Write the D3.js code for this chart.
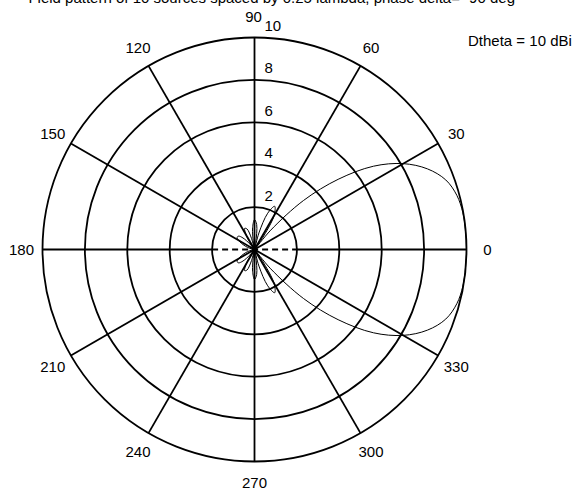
<!DOCTYPE html>
<html>
<head>
<meta charset="utf-8">
<script src="https://cdn.jsdelivr.net/npm/d3@7"></script>
<style>
  body { margin: 0; background: #fff; }
  text { font-family: "Liberation Sans", Arial, sans-serif; font-size: 15px; fill: #000; }
</style>
</head>
<body>
<div id="chart"></div>
<script>
/* Polar field pattern of a 10 element end-fire array */

// angles of the pattern samples (deg) and field values
const patternAngles = [0, 5, 10, 15, 20, 25, 30, 35, 40, 45, 50, 53.13, 55, 60, 65, 70, 75, 78.46, 80, 85,
    90, 95, 100, 101.54, 105, 110, 115, 120, 125, 126.87, 130, 135, 140, 145, 150, 155, 160, 165, 170, 175,
    180, 185, 190, 195, 200, 205, 210, 215, 220, 225, 230, 233.13, 235, 240, 245, 250, 255, 258.46, 260, 265,
    270, 275, 280, 281.54, 285, 290, 295, 300, 305, 306.87, 310, 315, 320, 325, 330, 335, 340, 345, 350, 355];
const patternValues = [10, 9.99, 9.98, 9.88, 9.6, 9.0, 8.1, 6.85, 5.15, 3.27, 1.19, 0, 0.63, 1.85, 2.25, 1.82, 0.81, 0, 0.34, 1.18,
    1.41, 1.03, 0.26, 0, 0.53, 1.03, 1.10, 0.77, 0.22, 0, 0.34, 0.77, 0.98, 1.00, 0.87, 0.67, 0.46, 0.26, 0.12, 0.03,
    0, 0.03, 0.12, 0.26, 0.46, 0.67, 0.87, 1.00, 0.98, 0.77, 0.34, 0, 0.22, 0.77, 1.10, 1.03, 0.53, 0, 0.26, 1.03,
    1.41, 1.18, 0.34, 0, 0.81, 1.82, 2.25, 1.85, 0.63, 0, 1.19, 3.27, 5.15, 6.85, 8.1, 9.0, 9.6, 9.88, 9.98, 9.99];

// grid rings and spokes
const ringTicks = [2, 4, 6, 8, 10];
const spokeAngles = [0, 30, 60, 90, 120, 150, 180, 210, 240, 270, 300, 330];

const titleText = "Field pattern of 10 sources spaced by 0.25 lambda, phase delta= -90 deg";
const noteText = "Dtheta = 10 dBi";

const width = 581,
      height = 490,
      cx = 254.5,
      cy = 249.5,
      R = 212;

let svg = d3.select("#chart")
    .append("svg")
    .attr("width", width)
    .attr("height", height)
    .attr("viewBox", [0, 0, width, height]);

// radial scale: field value -> pixels
let r = d3.scaleLinear()
    .domain([0, 10])
    .range([0, R]);

const rad = d => d * Math.PI / 180;

let g = svg.append("g")
    .attr("transform", `translate(${cx},${cy})`);

// rings
g.selectAll(".ring")
    .data(ringTicks)
    .join("circle")
    .attr("class", "ring")
    .attr("r", d => r(d))
    .attr("fill", "none")
    .attr("stroke", "#000")
    .attr("stroke-width", 1.8);

// spokes (0 and 180 start outside the first ring, the inner part is dashed)
g.selectAll(".spoke")
    .data(spokeAngles)
    .join("line")
    .attr("class", "spoke")
    .attr("x1", d => (d % 180 === 0 ? r(ringTicks[0]) : 0) * Math.cos(rad(d)))
    .attr("y1", d => -(d % 180 === 0 ? r(ringTicks[0]) : 0) * Math.sin(rad(d)))
    .attr("x2", d => r(10) * Math.cos(rad(d)))
    .attr("y2", d => -r(10) * Math.sin(rad(d)))
    .attr("stroke", "#000")
    .attr("stroke-width", 1.8);

g.append("line")
    .attr("x1", -r(ringTicks[0]))
    .attr("x2", r(ringTicks[0]))
    .attr("y1", 0)
    .attr("y2", 0)
    .attr("stroke", "#000")
    .attr("stroke-width", 1.8)
    .attr("stroke-dasharray", "6,4");

// angle labels around the outside
g.selectAll(".angle-label")
    .data(spokeAngles)
    .join("text")
    .attr("class", "angle-label")
    .attr("x", d => (R + 21) * Math.cos(rad(d)) + (d === 90 ? -1 : 0))
    .attr("y", d => -(R + 21) * Math.sin(rad(d)))
    .attr("text-anchor", "middle")
    .attr("dominant-baseline", "central")
    .text(d => d);

// ring labels along the 90 deg spoke
g.selectAll(".ring-label")
    .data(ringTicks)
    .join("text")
    .attr("class", "ring-label")
    .attr("x", 10)
    .attr("y", d => -r(d) - 12)
    .attr("dominant-baseline", "central")
    .text(d => d);

// pattern curve
let pts = patternAngles.map((a, i) => [rad(90 - a), r(patternValues[i])]);

let line = d3.lineRadial()
    .angle(d => d[0])
    .radius(d => d[1])
    .curve(d3.curveCatmullRomClosed.alpha(0.5));

g.append("path")
    .attr("d", line(pts))
    .attr("fill", "none")
    .attr("stroke", "#000")
    .attr("stroke-width", 1);

// title (cut by the top edge) and note
svg.append("text")
    .attr("x", 515)
    .attr("y", 3)
    .attr("text-anchor", "end")
    .text(titleText);

svg.append("text")
    .attr("x", 468)
    .attr("y", 40)
    .attr("dominant-baseline", "central")
    .text(noteText);
</script>
</body>
</html>
